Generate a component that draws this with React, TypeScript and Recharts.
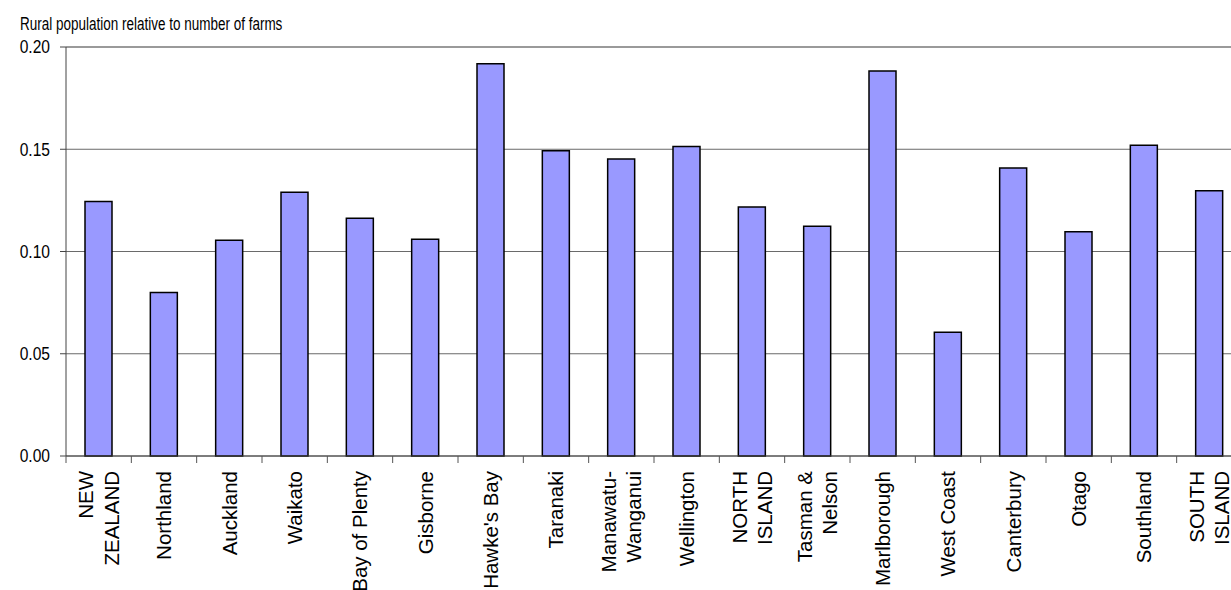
import React from "react";
import {
  BarChart,
  Bar,
  XAxis,
  YAxis,
  CartesianGrid,
  ReferenceLine,
} from "recharts";

// categories and values
const REGIONS = [
  "NEW\nZEALAND",
  "Northland",
  "Auckland",
  "Waikato",
  "Bay of Plenty",
  "Gisborne",
  "Hawke's Bay",
  "Taranaki",
  "Manawatu-\nWanganui",
  "Wellington",
  "NORTH\nISLAND",
  "Tasman &\nNelson",
  "Marlborough",
  "West Coast",
  "Canterbury",
  "Otago",
  "Southland",
  "SOUTH\nISLAND",
];

const RATIO = [
  0.1245, 0.08, 0.1055, 0.129, 0.1163, 0.106, 0.1918, 0.1493, 0.1452, 0.1513,
  0.1218, 0.1124, 0.1883, 0.0605, 0.1408, 0.1097, 0.152, 0.1297,
];

const Y_TICKS = [0, 0.05, 0.1, 0.15, 0.2];

const TITLE = "Rural population relative to number of farms";

const data = REGIONS.map((name, i) => ({ name, value: RATIO[i] }));

const FONT = "'Liberation Sans', Arial, sans-serif";
const PLOT_LEFT = 66;
const PLOT_TOP = 47;
const PLOT_BOTTOM = 456;
const STEP = 65.33;
const X_FONT = 20.5;

const XTick = (props: any) => {
  const { x, payload, index } = props;
  const lines = String(payload.value).split("\n");
  const n = lines.length;
  return (
    <g>
      <line
        x1={x - STEP / 2}
        x2={x - STEP / 2}
        y1={PLOT_BOTTOM}
        y2={PLOT_BOTTOM + 7}
        stroke="#555"
      />
      {index === REGIONS.length - 1 && (
        <line
          x1={x + STEP / 2}
          x2={x + STEP / 2}
          y1={PLOT_BOTTOM}
          y2={PLOT_BOTTOM + 7}
          stroke="#555"
        />
      )}
      {lines.map((ln, i) => {
        const cx = x + (i - (n - 1) / 2) * 25.5 + 0.358 * X_FONT;
        return (
          <text
            key={i}
            transform={`translate(${cx},${PLOT_BOTTOM + 15}) rotate(-90)`}
            textAnchor="end"
            fontSize={X_FONT}
            fontFamily={FONT}
            fill="#000"
          >
            {ln}
          </text>
        );
      })}
    </g>
  );
};

const YTick = (props: any) => {
  const { y, payload } = props;
  return (
    <g transform={`translate(50,${y}) scale(1,1.15)`}>
      <text
        textAnchor="end"
        dy="0.36em"
        fontSize={15.6}
        fontFamily={FONT}
        fill="#000"
      >
        {payload.value.toFixed(2)}
      </text>
    </g>
  );
};

export default function App() {
  return (
    <div
      style={{
        position: "absolute",
        left: 0,
        top: 0,
        width: 1231,
        height: 590,
        overflow: "hidden",
        background: "#fff",
      }}
    >
      <svg
        width={400}
        height={40}
        style={{ position: "absolute", left: 0, top: 0 }}
      >
        <g transform="translate(20,30) scale(1,1.42)">
          <text fontSize={13.5} fontFamily={FONT} fill="#000">
            {TITLE}
          </text>
        </g>
      </svg>
      <div style={{ position: "absolute", left: 0, top: 0 }}>
        <BarChart
          width={1252}
          height={590}
          data={data}
          margin={{ top: PLOT_TOP, right: 10, bottom: 0, left: 0 }}
        >
          <CartesianGrid vertical={false} stroke="#6a6a6a" />
          <ReferenceLine y={0.2} stroke="#9a9a9a" strokeWidth={2} />
          <XAxis
            dataKey="name"
            interval={0}
            height={590 - PLOT_BOTTOM}
            tickLine={false}
            axisLine={{ stroke: "#444" }}
            tick={<XTick />}
          />
          <YAxis
            width={PLOT_LEFT}
            domain={[0, 0.2]}
            ticks={Y_TICKS}
            interval={0}
            tickLine={{ stroke: "#444" }}
            tickSize={6}
            axisLine={{ stroke: "#444" }}
            tick={<YTick />}
          />
          <Bar
            dataKey="value"
            fill="#9999FF"
            stroke="#000"
            strokeWidth={1.5}
            barSize={27}
            isAnimationActive={false}
          />
        </BarChart>
      </div>
    </div>
  );
}
